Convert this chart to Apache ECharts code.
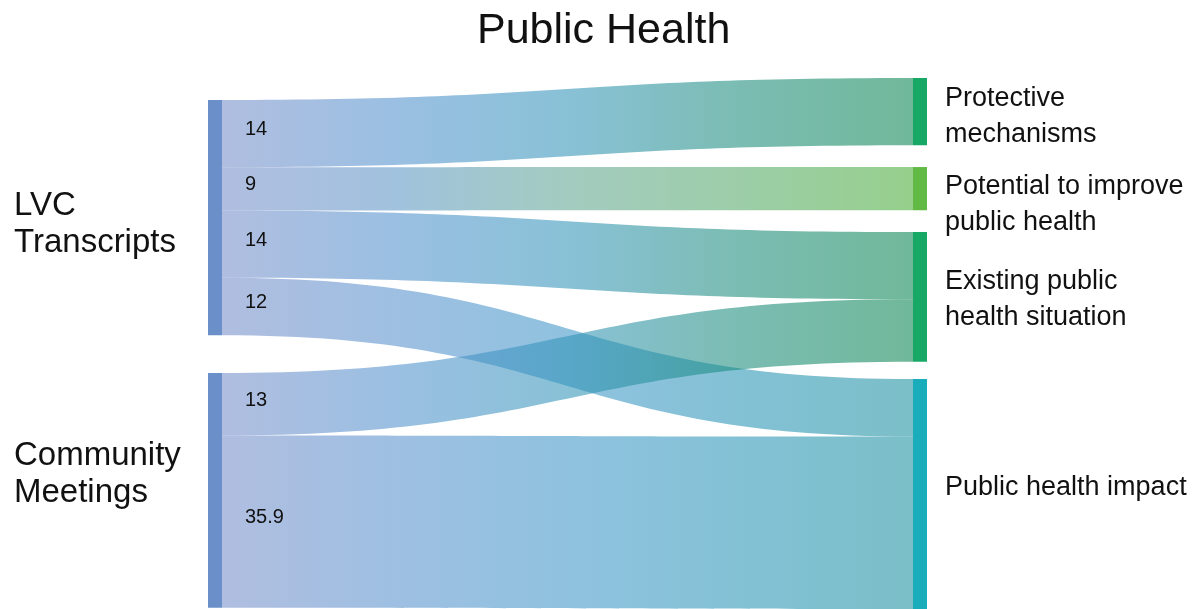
<!DOCTYPE html>
<html>
<head>
<meta charset="utf-8">
<title>Public Health</title>
<script src="https://cdn.jsdelivr.net/npm/echarts@6/dist/echarts.min.js"></script>
<style>
  html, body { margin: 0; padding: 0; background: #ffffff; }
  #chart { width: 1196px; height: 609px; }
</style>
</head>
<body>
<div id="chart"></div>
<script>
// Source and target categories
const sourceNames = ['LVC Transcripts', 'Community Meetings'];
const targetNames = [
  'Protective mechanisms',
  'Potential to improve public health',
  'Existing public health situation',
  'Public health impact'
];
// Flows: source -> target with their values
const flowFrom  = ['LVC Transcripts', 'LVC Transcripts', 'LVC Transcripts', 'LVC Transcripts', 'Community Meetings', 'Community Meetings'];
const flowTo    = ['Protective mechanisms', 'Potential to improve public health', 'Existing public health situation', 'Public health impact', 'Existing public health situation', 'Public health impact'];
const flowValue = [14, 9, 14, 12, 13, 35.9];

// Wrapped display text for node labels
const displayName = {
  'LVC Transcripts': 'LVC\nTranscripts',
  'Community Meetings': 'Community\nMeetings',
  'Protective mechanisms': 'Protective\nmechanisms',
  'Potential to improve public health': 'Potential to improve\npublic health',
  'Existing public health situation': 'Existing public\nhealth situation',
  'Public health impact': 'Public health impact'
};

// Styling
const nodeColor = {
  'LVC Transcripts': '#6b8fc9',
  'Community Meetings': '#6b8fc9',
  'Protective mechanisms': '#18a865',
  'Potential to improve public health': '#62ba45',
  'Existing public health situation': '#18a865',
  'Public health impact': '#19adbc'
};
// Gradient stops of each flow, keyed by target
const flowStops = {
  'Protective mechanisms': ['#748dc9', '#4e8fcc', '#2f92b8', '#178a78', '#04824e'],
  'Potential to improve public health': ['#748dc9', '#5a94c4', '#5ea490', '#52a866', '#47ab35'],
  'Existing public health situation': ['#748dc9', '#4e8fcc', '#2f92b8', '#178a78', '#04824e'],
  'Public health impact': ['#748dc9', '#558fcc', '#3b94c7', '#2592b5', '#178f9f']
};
// Vertical placement of nodes inside the series box (fraction of its height)
const nodeTop = {
  'LVC Transcripts': 0.0415,
  'Community Meetings': 0.5566,
  'Protective mechanisms': 0.0,
  'Potential to improve public health': 0.168,
  'Existing public health situation': 0.2906,
  'Public health impact': 0.5679
};
const labelShift = {
  'LVC Transcripts': 7,
  'Community Meetings': -16,
  'Protective mechanisms': 5,
  'Potential to improve public health': 16,
  'Existing public health situation': 3,
  'Public health impact': -6
};

const FONT = '"Liberation Sans", Arial, Helvetica, sans-serif';

const nodes = sourceNames.map(function (n) {
  return {
    name: n,
    localY: nodeTop[n],
    itemStyle: { color: nodeColor[n] },
    label: {
      position: [-194, '50%'],
      align: 'left',
      verticalAlign: 'middle',
      offset: [0, labelShift[n]],
      fontSize: 33,
      lineHeight: 37
    }
  };
}).concat(targetNames.map(function (n) {
  return {
    name: n,
    localY: nodeTop[n],
    itemStyle: { color: nodeColor[n] },
    label: {
      position: 'right',
      distance: 18,
      offset: [0, labelShift[n]],
      fontSize: 27,
      lineHeight: 36
    }
  };
}));

const links = flowValue.map(function (v, i) {
  const stops = flowStops[flowTo[i]];
  return {
    source: flowFrom[i],
    target: flowTo[i],
    value: v,
    lineStyle: {
      opacity: 0.57,
      color: {
        type: 'linear', x: 0, y: 0, x2: 1, y2: 0,
        colorStops: stops.map(function (c, k) {
          return { offset: k / (stops.length - 1), color: c };
        })
      }
    }
  };
});

const chart = echarts.init(document.getElementById('chart'), null, { renderer: 'canvas' });

chart.setOption({
  animation: false,
  backgroundColor: '#ffffff',
  title: {
    text: 'Public Health',
    left: 472,
    top: 5,
    textStyle: { fontFamily: FONT, fontSize: 43, fontWeight: 'normal', color: '#111111' }
  },
  series: [{
    type: 'sankey',
    left: 208,
    right: 269,
    top: 78,
    bottom: 1,
    nodeWidth: 14,
    nodeGap: 20,
    layoutIterations: 0,
    draggable: false,
    emphasis: { disabled: true },
    label: {
      color: '#111111',
      fontFamily: FONT,
      formatter: function (p) { return displayName[p.name] || p.name; }
    },
    itemStyle: { borderWidth: 0 },
    lineStyle: { curveness: 0.5 },
    data: nodes,
    links: links
  }]
});

// Flow values written at the start of each flow, placed from the sankey layout
(function addFlowLabels() {
  const series = chart.getModel().getSeriesByIndex(0);
  const box = series.layoutInfo;
  const graph = series.getGraph();
  const texts = [];
  graph.eachEdge(function (edge) {
    const e = edge.getLayout();
    const src = edge.node1;
    const sl = src.getLayout();
    const ly = src.getModel().get('localY');
    const nodeY = ly != null ? ly * box.height : sl.y;
    texts.push({
      type: 'text',
      silent: true,
      x: box.x + sl.x + sl.dx + 23,
      y: box.y + nodeY + e.sy + e.dy / 2 - 4,
      style: {
        text: String(edge.getValue()),
        fill: '#111111',
        font: '20px ' + FONT,
        textAlign: 'left',
        textVerticalAlign: 'middle'
      },
      z: 100
    });
  });
  chart.setOption({ graphic: texts });
})();
</script>
</body>
</html>
